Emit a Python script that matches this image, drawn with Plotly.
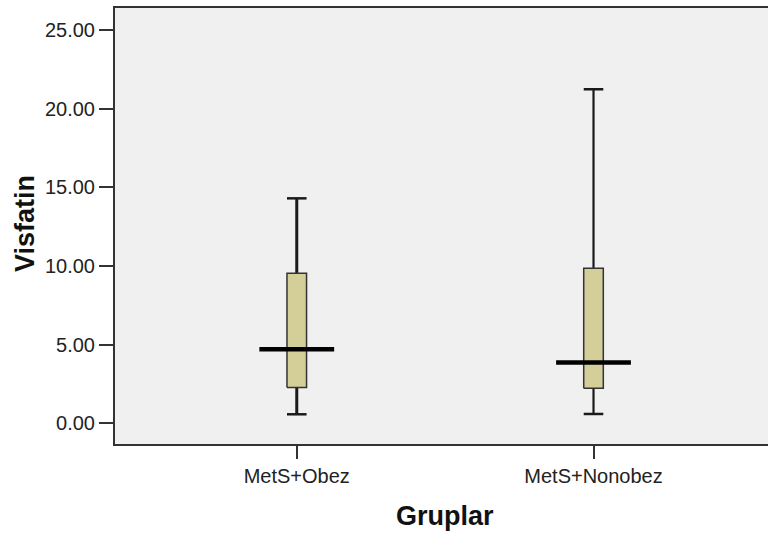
import plotly.graph_objects as go

categories = ["MetS+Obez", "MetS+Nonobez"]
whisker_low = [0.57, 0.59]
q1 = [2.27, 2.23]
median = [4.71, 3.86]
q3 = [9.54, 9.86]
whisker_high = [14.31, 21.25]
y_ticks = [0, 5, 10, 15, 20, 25]
y_tick_labels = ["0.00", "5.00", "10.00", "15.00", "20.00", "25.00"]

positions = list(range(len(categories)))
box_half = 0.033
cap_half = 0.033
med_half = 0.126
whisker_widths = [3, 2.2]
fill_color = "#D4CF98"
dark = "#1a1a1a"

fig = go.Figure()
for i, p in enumerate(positions):
    # whisker vertical
    fig.add_trace(go.Scatter(x=[p, p, None, p, p], y=[whisker_low[i], q1[i], None, q3[i], whisker_high[i]],
                             mode="lines", line=dict(color=dark, width=whisker_widths[i]),
                             hoverinfo="skip", showlegend=False))
    # caps
    fig.add_trace(go.Scatter(x=[p - cap_half, p + cap_half, None, p - cap_half, p + cap_half],
                             y=[whisker_low[i], whisker_low[i], None, whisker_high[i], whisker_high[i]],
                             mode="lines", line=dict(color=dark, width=2.5),
                             hoverinfo="skip", showlegend=False))
    # box
    fig.add_trace(go.Scatter(x=[p - box_half, p + box_half, p + box_half, p - box_half, p - box_half],
                             y=[q1[i], q1[i], q3[i], q3[i], q1[i]],
                             mode="lines", fill="toself", fillcolor=fill_color,
                             line=dict(color="#333333", width=1.5),
                             hoverinfo="skip", showlegend=False))
    # median
    fig.add_trace(go.Scatter(x=[p - med_half, p + med_half], y=[median[i], median[i]],
                             mode="lines", line=dict(color="#000000", width=4.5),
                             hoverinfo="skip", showlegend=False))

font_family = "Liberation Sans, Arial, sans-serif"
fig.update_layout(
    width=768, height=534,
    margin=dict(l=115, r=0, t=8, b=90),
    paper_bgcolor="white",
    plot_bgcolor="#F0F0F0",
    font=dict(family=font_family, size=20, color="#222222"),
    xaxis=dict(range=[-0.6125, 1.588], tickvals=positions, ticktext=categories,
               showgrid=False, zeroline=False, showline=True, mirror=True,
               linecolor="#333333", linewidth=2, ticks="outside", ticklen=13,
               tickcolor="#333333", tickwidth=1.5, tickfont=dict(size=20)),
    yaxis=dict(range=[-1.32, 26.42], tickvals=y_ticks, ticktext=y_tick_labels,
               showgrid=False, zeroline=False, showline=True, mirror=False,
               linecolor="#333333", linewidth=2, ticks="outside", ticklen=14,
               tickcolor="#333333", tickwidth=2, tickfont=dict(size=20)),
    annotations=[
        dict(text="<b>Gruplar</b>", xref="paper", yref="paper", x=0.5, y=0,
             xshift=3, yshift=-72, xanchor="center", yanchor="middle",
             showarrow=False, font=dict(size=27, color="#111111")),
        dict(text="<b>Visfatin</b>", xref="paper", yref="paper", x=0, y=0.5,
             xshift=-90, yshift=2, xanchor="center", yanchor="middle", textangle=-90,
             showarrow=False, font=dict(size=27, color="#111111")),
    ],
)

fig.write_html("out.html")
